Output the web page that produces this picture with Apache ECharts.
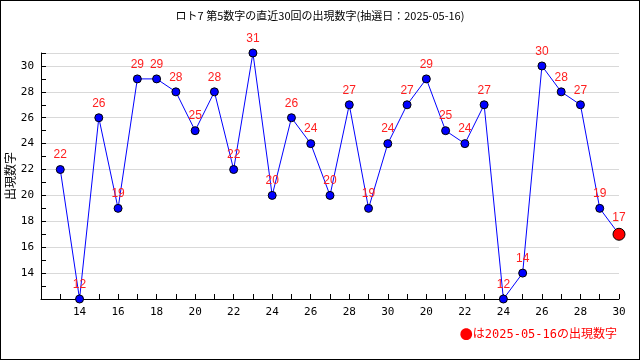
<!DOCTYPE html>
<html><head><meta charset="utf-8">
<script src="https://cdn.jsdelivr.net/npm/echarts@6/dist/echarts.min.js"></script>
<style>html,body{margin:0;padding:0;background:#fff}#c{width:640px;height:360px;box-sizing:border-box;border:1px solid #000}</style>
</head><body><div id="c"></div>
<script>
const titleText = 'ロト7 第5数字の直近30回の出現数字(抽選日：2025-05-16)';
const yName = '出現数字';
const noteMark = '●';
const noteText = 'は2025-05-16の出現数字';
const categories = ['13','14','15','16','17','18','19','20','21','22','23','24','25','26','27','28','29','30','19','20','21','22','23','24','25','26','27','28','29','30'];
const values = [22,12,26,19,29,29,28,25,28,22,31,20,26,24,20,27,19,24,27,29,25,24,27,12,14,30,28,27,19,17];
const yMin = 12, yMax = 31;

const cats = [''].concat(categories);
const data = ['-'].concat(values.map((v, i) => {
  if (i === values.length - 1) {
    return {value: v, symbolSize: 12, itemStyle: {color: '#ff0000', borderColor: '#000', borderWidth: 1}};
  }
  return v;
}));

const chart = echarts.init(document.getElementById('c'));
const monoFont = "'DejaVu Sans Mono', 'Noto Sans CJK JP', monospace";
chart.setOption({
  animation: false,
  title: {text: titleText, left: 'center', top: 4,
    textStyle: {fontSize: 11, fontWeight: 'normal', color: '#000', fontFamily: "'Noto Sans CJK JP', 'DejaVu Sans Mono'"}},
  grid: {left: 40, right: 20, top: 52, bottom: 60, containLabel: false, outerBoundsMode: 'none'},
  xAxis: {
    type: 'category', data: cats, boundaryGap: false,
    axisLine: {lineStyle: {color: '#000', width: 1}},
    axisTick: {inside: true, length: 5, lineStyle: {color: '#000'}, interval: (i) => i > 0},
    axisLabel: {interval: (i) => i > 0 && i % 2 === 0, color: '#000', fontSize: 11, fontFamily: monoFont, margin: 8},
    splitLine: {show: false}
  },
  yAxis: [{
    type: 'value', min: yMin, max: yMax, interval: 1,
    axisLine: {show: true, lineStyle: {color: '#000'}},
    axisTick: {show: true, inside: true, length: 5, lineStyle: {color: '#000'}},
    axisLabel: {color: '#000', fontSize: 11, fontFamily: monoFont, margin: 7,
      formatter: (v) => (v % 2 === 0 && v > yMin && v < yMax) ? String(v) : ''},
    splitLine: {show: false}
  }, {
    type: 'value', min: yMin, max: yMax, interval: 2, position: 'left',
    axisLine: {show: false}, axisTick: {show: false}, axisLabel: {show: false},
    splitLine: {show: true, lineStyle: {color: '#d9d9d9', width: 1}}
  }],
  series: [{
    type: 'line', data: data, yAxisIndex: 0,
    symbol: 'circle', symbolSize: 8,
    lineStyle: {color: '#0000ff', width: 1},
    itemStyle: {color: '#0000ff', borderColor: '#000', borderWidth: 1},
    label: {show: true, position: 'top', distance: 4, color: '#ff2020', fontSize: 12, fontFamily: "'Liberation Sans', Arial"},
    z: 3
  }],
  graphic: [{
    type: 'text', x: 9, y: 175, rotation: Math.PI / 2,
    style: {text: yName, fill: '#000', fontSize: 12, fontFamily: "'Noto Sans CJK JP'", align: 'center', verticalAlign: 'middle'}
  }, {
    type: 'text', right: 22, top: 327,
    style: {
      text: '{a|' + noteMark + '}{b|' + noteText + '}',
      rich: {
        a: {fill: '#ff0000', fontSize: 13, fontFamily: "'Noto Sans CJK JP'"},
        b: {fill: '#ff0000', fontSize: 12, fontFamily: "'DejaVu Sans Mono', 'Noto Sans CJK JP'"}
      }
    }
  }]
});
</script></body></html>
